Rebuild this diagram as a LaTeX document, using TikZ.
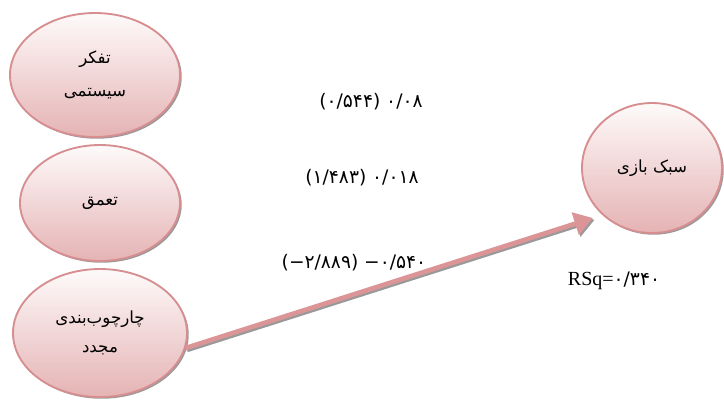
\documentclass[tikz,border=0pt]{standalone}
\usepackage{fontspec}
\setmainfont{Liberation Serif}
\newfontfamily\farsi[Script=Arabic]{DejaVu Sans}
\newfontfamily\farsinum{DejaVu Sans}
\TeXXeTstate=1
\usepackage{tikz}
\usetikzlibrary{
	shapes.geometric,
	shadows,
	arrows.meta
}
\definecolor{ovalline}{HTML}{D68E91}
\definecolor{ovaltop}{HTML}{FEFAFA}
\definecolor{ovalbottom}{HTML}{E5B3B4}
\definecolor{arrowpink}{HTML}{DC9597}

\begin{document}
\begin{tikzpicture}[x = 0.75pt, y = -0.75pt,
	oval/.style = {ellipse, draw = ovalline, line width = 1.4pt, inner sep = 0pt,
		top color = ovaltop, bottom color = ovalbottom, align = center,
		font = \farsi\fontsize{12.5}{15}\selectfont,
		drop shadow = {shadow xshift = 1.3pt, shadow yshift = -1.3pt, fill = black!40, opacity = 1}},
	coef/.style = {font = \farsinum\fontsize{14}{16}\selectfont, inner sep = 1pt}]
	\useasboundingbox (0,0) rectangle (724,401);
	
	% three predictors
	\node (top) at (95,75) [oval, minimum width = 127.5pt, minimum height = 93pt]
		{\beginR تفکر\endR\\[10pt]\beginR سیستمی\endR};
	\node (mid) at (100,203) [oval, minimum width = 120pt, minimum height = 87pt]
		{\beginR تعمق\endR};
	\node (bot) at (100,333) [oval, minimum width = 130.5pt, minimum height = 96pt]
		{\beginR چارچوب‌بندی\endR\\[7pt]\beginR مجدد\endR};
	
	% outcome
	\node (out) at (652,168) [oval, minimum width = 105pt, minimum height = 97.5pt]
		{\beginR سبک بازی\endR};
	
	% coefficients
	\node (c1) at (371,102) [coef] {\beginR\beginL (۰/۵۴۴) ۰/۰۸\endL\endR};
	\node (c2) at (362,178) [coef] {\beginR\beginL (۱/۴۸۳) ۰/۰۱۸\endL\endR};
	\node (c3) at (354,263) [coef] {\beginR\beginL (−۲/۸۸۹) −۰/۵۴۰\endL\endR};
	\node (rsq) at (614,281) [font = \fontsize{15}{17}\selectfont]
		{RSq={\farsinum\fontsize{14}{16}\selectfont ۰/۳۴۰}};
	
	% arrow
	\coordinate (tip) at (593,218);
	\draw [line width = 3.5pt, black!40, -{Triangle[width = 17pt, length = 14pt]}]
	([shift = {(1.6,1.8)}]bot.-10) -- ([shift = {(1.6,1.8)}]tip);
	\draw [line width = 3.5pt, arrowpink, -{Triangle[width = 17pt, length = 14pt]}]
	(bot.-10) -- (tip);
	
\end{tikzpicture}
\end{document}
